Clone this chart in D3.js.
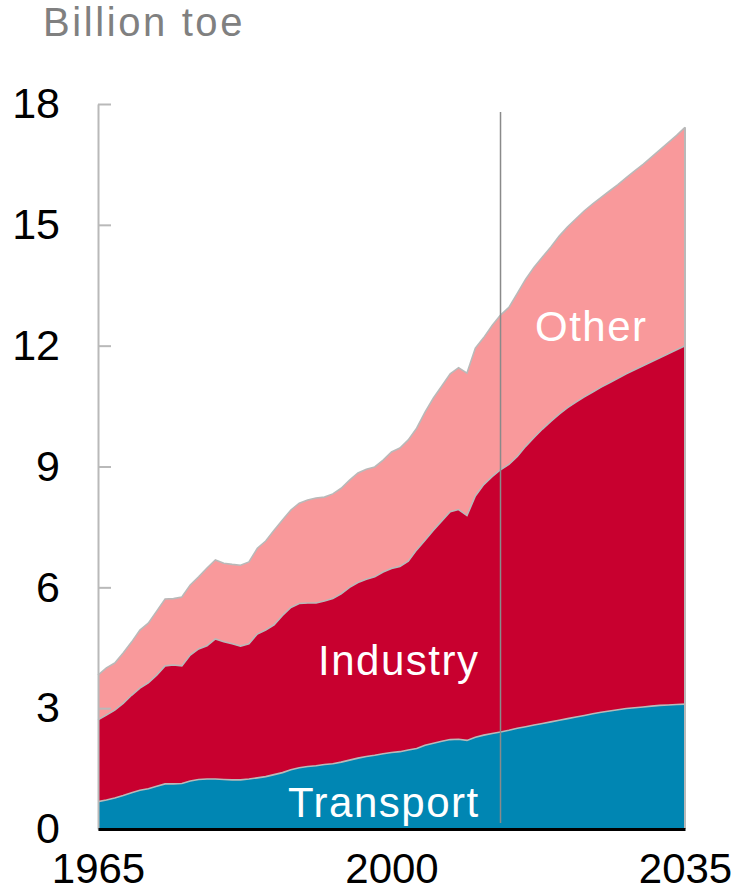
<!DOCTYPE html>
<html>
<head>
<meta charset="utf-8">
<script src="https://cdn.jsdelivr.net/npm/d3@7"></script>
<style>
  body { margin: 0; background: #fff; }
  svg text { font-family: "Liberation Sans", Arial, sans-serif; }
</style>
</head>
<body>
<svg id="chart" width="750" height="893"></svg>
<script>
// Years 1965-2035 (history to 2013, outlook after)
var years = d3.range(1965, 2036);

var transport = [
  0.68, 0.72, 0.77, 0.83, 0.90, 0.96, 1.00, 1.06, 1.12, 1.12,
  1.13, 1.19, 1.23, 1.24, 1.24, 1.23, 1.22, 1.22, 1.24, 1.27,
  1.30, 1.35, 1.40, 1.47, 1.52, 1.55, 1.57, 1.60, 1.62, 1.66,
  1.71, 1.76, 1.80, 1.83, 1.87, 1.90, 1.92, 1.96, 2.00, 2.08,
  2.13, 2.18, 2.22, 2.23, 2.20, 2.28, 2.33, 2.37, 2.41, 2.45,
  2.50, 2.54, 2.58, 2.62, 2.66, 2.70, 2.74, 2.78, 2.82, 2.86,
  2.90, 2.93, 2.96, 2.99, 3.01, 3.03, 3.05, 3.07, 3.08, 3.09,
  3.10
];

var industry = [
  2.03, 2.11, 2.18, 2.29, 2.42, 2.54, 2.63, 2.76, 2.93, 2.95,
  2.92, 3.13, 3.24, 3.31, 3.48, 3.42, 3.38, 3.32, 3.36, 3.57,
  3.64, 3.72, 3.90, 4.03, 4.08, 4.06, 4.04, 4.06, 4.10, 4.18,
  4.29, 4.36, 4.40, 4.43, 4.51, 4.57, 4.60, 4.69, 4.93, 5.09,
  5.29, 5.47, 5.66, 5.70, 5.58, 5.99, 6.22, 6.38, 6.51, 6.60,
  6.75, 6.96, 7.14, 7.31, 7.46, 7.60, 7.72, 7.82, 7.91, 7.99,
  8.07, 8.15, 8.23, 8.31, 8.39, 8.47, 8.55, 8.63, 8.72, 8.81,
  8.90
];

var other = [
  1.11, 1.17, 1.17, 1.25, 1.32, 1.44, 1.48, 1.59, 1.66, 1.65,
  1.71, 1.74, 1.79, 1.93, 1.96, 1.95, 1.97, 2.01, 2.03, 2.13,
  2.21, 2.35, 2.37, 2.42, 2.49, 2.56, 2.61, 2.58, 2.60, 2.62,
  2.66, 2.72, 2.73, 2.73, 2.78, 2.89, 2.94, 3.01, 3.02, 3.18,
  3.28, 3.35, 3.42, 3.52, 3.54, 3.67, 3.65, 3.75, 3.84, 3.90,
  4.05, 4.15, 4.23, 4.27, 4.33, 4.42, 4.49, 4.55, 4.62, 4.67,
  4.71, 4.76, 4.81, 4.87, 4.94, 5.00, 5.08, 5.16, 5.24, 5.32,
  5.42
];

var seriesKeys = ["Transport", "Industry", "Other"];
var seriesColors = ["#0086b3", "#c8002f", "#f9999b"];
var yTicks = [0, 3, 6, 9, 12, 15, 18];
var xTicks = [1965, 2000, 2035];
var lastHistoric = 2013;
var unitLabel = "Billion toe";

var rows = years.map(function (yr, i) {
  return { year: yr, Transport: transport[i], Industry: industry[i], Other: other[i] };
});

var svg = d3.select("#chart");

var x = d3.scaleLinear().domain([1965, 2035]).range([98, 685]);
var y = d3.scaleLinear().domain([0, 18]).range([829, 104]);

var stacked = d3.stack().keys(seriesKeys)(rows);

var area = d3.area()
  .x(function (d) { return x(d.data.year); })
  .y0(function (d) { return y(d[0]); })
  .y1(function (d) { return y(d[1]); });

var topLine = d3.line()
  .x(function (d) { return x(d.data.year); })
  .y(function (d) { return y(d[1]); });

// Filled layers
svg.selectAll(".layer")
  .data(stacked)
  .enter().append("path")
  .attr("class", "layer")
  .attr("d", area)
  .attr("fill", function (d, i) { return seriesColors[i]; });

// Grey boundary on top of each layer
svg.selectAll(".edge")
  .data(stacked)
  .enter().append("path")
  .attr("class", "edge")
  .attr("d", topLine)
  .attr("fill", "none")
  .attr("stroke", "#b9b9b9")
  .attr("stroke-width", 1.6);

// right edge of the stack
var lastTop = stacked[stacked.length - 1][years.length - 1][1];
svg.append("line")
  .attr("x1", x(2035)).attr("x2", x(2035))
  .attr("y1", y(lastTop)).attr("y2", y(0))
  .attr("stroke", "#b9b9b9")
  .attr("stroke-width", 2);

// Y axis, ticks pointing inward
var yAxis = svg.append("g")
  .attr("transform", "translate(" + x(1965) + ",0)")
  .call(d3.axisLeft(y).tickValues(yTicks).tickSize(-13).tickSizeOuter(0).tickPadding(38));
yAxis.select(".domain").attr("stroke", "#b9b9b9").attr("stroke-width", 2);
yAxis.selectAll(".tick line").attr("stroke", "#b9b9b9").attr("stroke-width", 2);
yAxis.selectAll(".tick text")
  .attr("fill", "#000")
  .style("font-size", "43px");

// divider between history and outlook
svg.append("line")
  .attr("x1", x(lastHistoric)).attr("x2", x(lastHistoric))
  .attr("y1", 112).attr("y2", 823)
  .attr("stroke", "#8a8a8a")
  .attr("stroke-width", 1.5);

// X axis
var xAxis = svg.append("g")
  .attr("transform", "translate(0," + y(0) + ")")
  .call(d3.axisBottom(x).tickValues(xTicks).tickFormat(d3.format("d")).tickSize(0).tickPadding(24));
xAxis.select(".domain").attr("stroke", "#000").attr("stroke-width", 3);
xAxis.selectAll(".tick text")
  .attr("fill", "#000")
  .style("font-size", "42px");

// unit label
svg.append("text")
  .attr("x", 43)
  .attr("y", 36)
  .attr("fill", "#808080")
  .style("font-size", "40px")
  .style("letter-spacing", "2.6px")
  .text(unitLabel);

// series labels
var labels = [
  { text: "Other", x: 535, y: 341 },
  { text: "Industry", x: 318, y: 675 },
  { text: "Transport", x: 288, y: 817 }
];
svg.selectAll(".series-label")
  .data(labels)
  .enter().append("text")
  .attr("class", "series-label")
  .attr("x", function (d) { return d.x; })
  .attr("y", function (d) { return d.y; })
  .attr("fill", "#fff")
  .style("font-size", "42px")
  .style("letter-spacing", "1.5px")
  .text(function (d) { return d.text; });
</script>
</body>
</html>
